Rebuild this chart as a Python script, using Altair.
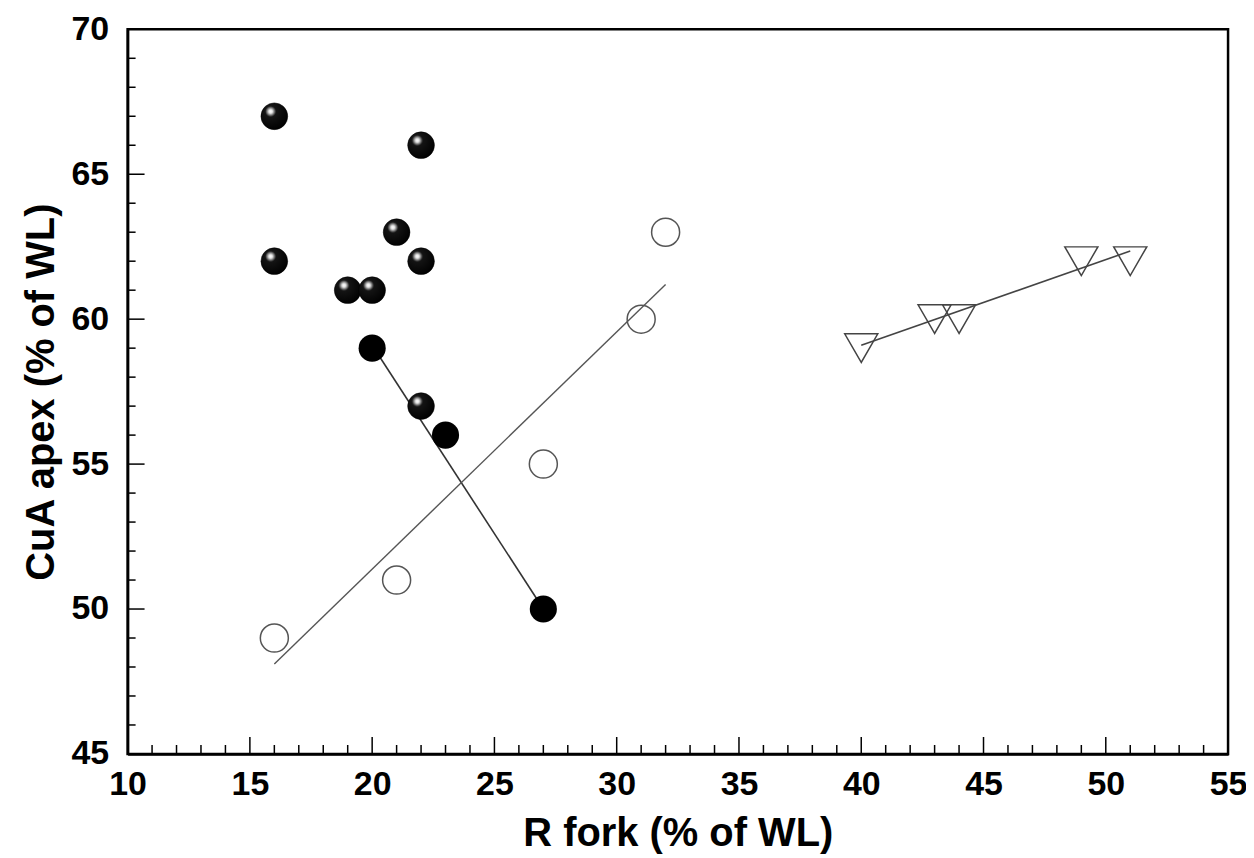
import altair as alt
import pandas as pd

# ---- data ----
sphere_x = [16, 22, 21, 16, 22, 19, 20, 22]
sphere_y = [67, 66, 63, 62, 62, 61, 61, 57]
solid_x = [20, 23, 27]
solid_y = [59, 56, 50]
open_x = [16, 21, 27, 31, 32]
open_y = [49, 51, 55, 60, 63]
tri_x = [40, 43, 44, 49, 51]
tri_y = [59, 60, 60, 62, 62]

fit_solid_x = [20, 27]
fit_solid_y = [59.1, 50.0]
fit_open_x = [16, 32]
fit_open_y = [48.1, 61.2]
fit_tri_x = [40, 51]
fit_tri_y = [59.1, 62.35]

x_major = [10, 15, 20, 25, 30, 35, 40, 45, 50, 55]
y_major = [45, 50, 55, 60, 65, 70]
x_inner_major = [15, 20, 25, 30, 35, 40, 45, 50]
x_minor = [v for v in range(11, 55) if v % 5 != 0]
y_inner_major = [50, 55, 60, 65]
y_minor = [v for v in range(46, 70) if v % 5 != 0]

W, H = 1104, 727
FONT = "Liberation Sans"

xs = alt.Scale(domain=[10, 55], nice=False, zero=False)
ys = alt.Scale(domain=[45, 70], nice=False, zero=False)
X = alt.X("x:Q", scale=xs, axis=alt.Axis(values=x_major, format="d", title="R fork (% of WL)"))
Y = alt.Y("y:Q", scale=ys, axis=alt.Axis(values=y_major, format="d", title="CuA apex (% of WL)"))


def df(xv, yv):
    return pd.DataFrame({"x": xv, "y": yv})


sphere_fill = alt.RadialGradient(
    gradient="radial",
    x1=0.36, y1=0.32, r1=0,
    x2=0.36, y2=0.32, r2=0.72,
    stops=[
        alt.GradientStop(color="#ffffff", offset=0),
        alt.GradientStop(color="#e8e8e8", offset=0.09),
        alt.GradientStop(color="#141414", offset=0.28),
        alt.GradientStop(color="#000000", offset=1),
    ],
)

line_solid = alt.Chart(df(fit_solid_x, fit_solid_y)).mark_line(color="#333333", strokeWidth=1.6).encode(x=X, y=Y)
line_open = alt.Chart(df(fit_open_x, fit_open_y)).mark_line(color="#555555", strokeWidth=1.4).encode(x=X, y=Y)
line_tri = alt.Chart(df(fit_tri_x, fit_tri_y)).mark_line(color="#444444", strokeWidth=1.6).encode(x=X, y=Y)

spheres = alt.Chart(df(sphere_x, sphere_y)).mark_point(
    shape="circle", filled=True, fill=sphere_fill, size=720, opacity=1,
    stroke="#000000", strokeWidth=0.5,
).encode(x=X, y=Y)

solids = alt.Chart(df(solid_x, solid_y)).mark_point(
    shape="circle", filled=True, fill="#000000", size=740, opacity=1,
).encode(x=X, y=Y)

opens = alt.Chart(df(open_x, open_y)).mark_point(
    shape="circle", filled=False, stroke="#555555", strokeWidth=1.5, size=790, opacity=1,
).encode(x=X, y=Y)

tris = alt.Chart(df(tri_x, tri_y)).mark_point(
    shape="triangle-down", filled=False, stroke="#444444", strokeWidth=1.5, size=1100, opacity=1,
).encode(x=X, y=Y)

# inward tick marks
xtick_major = alt.Chart(pd.DataFrame({"x": x_inner_major})).mark_rule(color="black", strokeWidth=1.5).encode(
    x=X, y=alt.value(H), y2=alt.value(H - 17))
xtick_minor = alt.Chart(pd.DataFrame({"x": x_minor})).mark_rule(color="black", strokeWidth=1.5).encode(
    x=X, y=alt.value(H), y2=alt.value(H - 9))
ytick_major = alt.Chart(pd.DataFrame({"y": y_inner_major})).mark_rule(color="black", strokeWidth=1.5).encode(
    y=Y, x=alt.value(0), x2=alt.value(17))
ytick_minor = alt.Chart(pd.DataFrame({"y": y_minor})).mark_rule(color="black", strokeWidth=1.5).encode(
    y=Y, x=alt.value(0), x2=alt.value(8))

chart = alt.layer(
    xtick_major, xtick_minor, ytick_major, ytick_minor,
    line_solid, line_open, line_tri,
    opens, tris, solids, spheres,
).properties(
    width=W, height=H,
    padding={"left": 120, "top": 20, "right": 18, "bottom": 100},
    autosize=alt.AutoSizeParams(type="none"),
).configure_view(
    stroke="black", strokeWidth=2.5,
).configure_axis(
    grid=False, ticks=False,
    domainColor="black", domainWidth=2.5,
    labelFont=FONT, labelFontWeight="bold", labelFontSize=34, labelColor="black",
    titleFont=FONT, titleFontWeight="bold", titleFontSize=40, titleColor="black",
    labelFlush=False, labelOverlap=False,
).configure_axisX(
    labelPadding=14, titlePadding=12,
).configure_axisY(
    labelPadding=19, titlePadding=10,
)

chart.save("out.html", embed_options={"renderer": "svg", "actions": False})
